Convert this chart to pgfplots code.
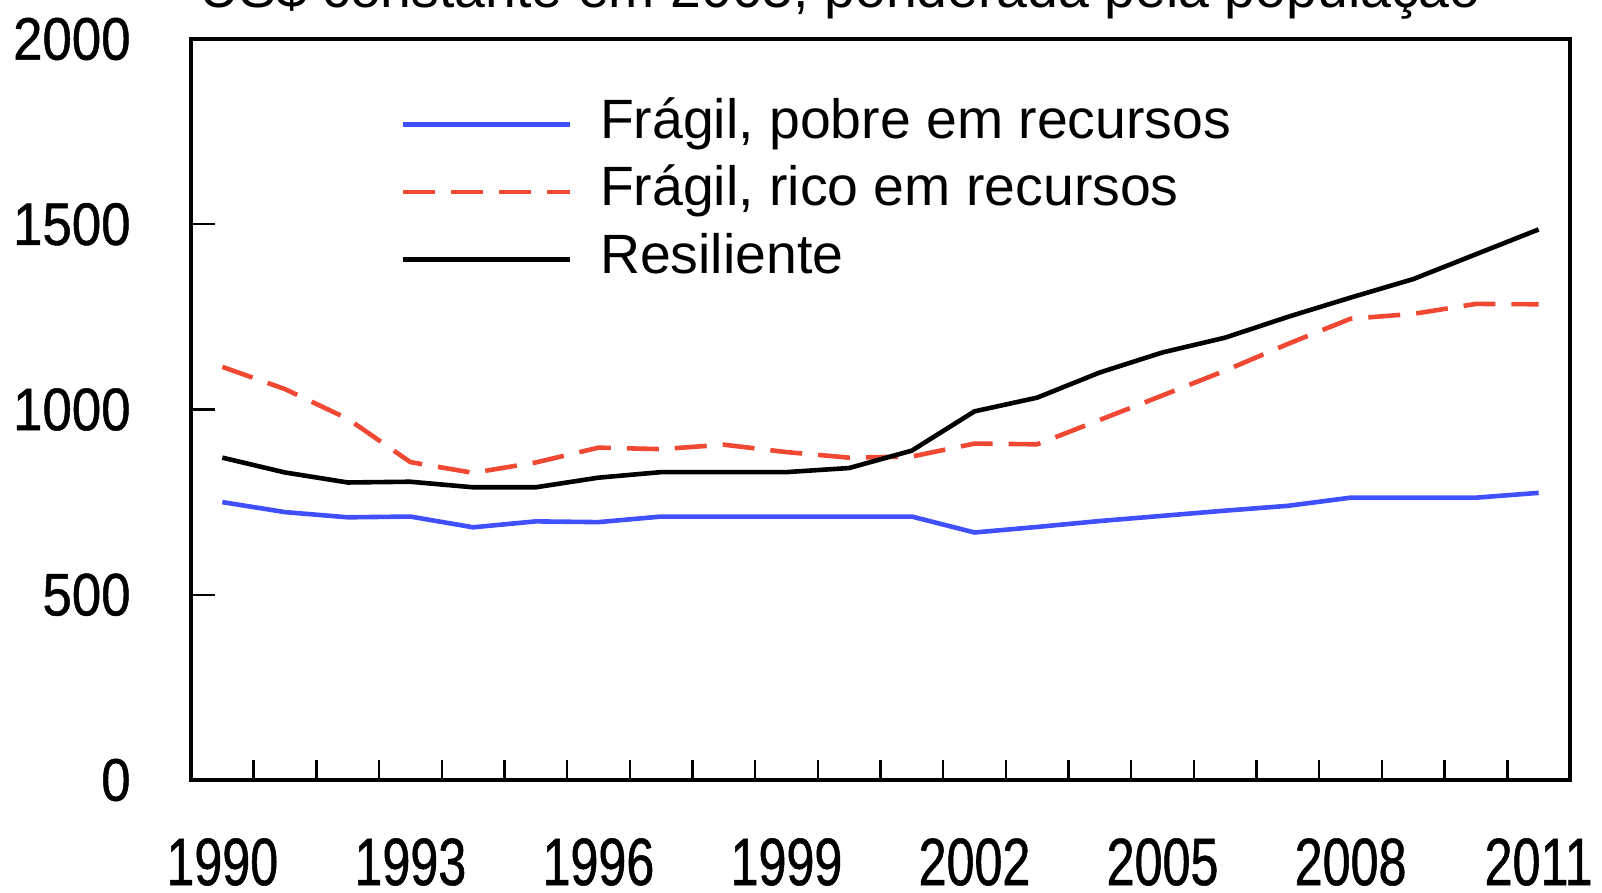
\documentclass[border=0pt]{standalone}
\usepackage{fontspec}
\setmainfont{Liberation Sans}
\newfontfamily\xnarrow[FakeStretch=0.75,FakeBold=0.8]{Liberation Sans}
\newfontfamily\ynarrow[FakeStretch=0.88,FakeBold=0.8]{Liberation Sans}
\usepackage{pgfplots}
\pgfplotsset{compat=1.18}
\definecolor{cblue}{RGB}{64,80,255}
\definecolor{cred}{RGB}{240,72,50}
\begin{document}
\begin{tikzpicture}
\begin{axis}[
 scale only axis, width=689.5pt, height=370.5pt,
 xmin=1989.5, xmax=2011.5, ymin=0, ymax=2000,
 axis line style={line width=1.8pt},
 xtick={1990,1993,1996,1999,2002,2005,2008,2011},
 xticklabels={1990,1993,1996,1999,2002,2005,2008,2011},
 minor xtick={1990.5,1991.5,1992.5,1993.5,1994.5,1995.5,1996.5,1997.5,1998.5,1999.5,2000.5,2001.5,2002.5,2003.5,2004.5,2005.5,2006.5,2007.5,2008.5,2009.5,2010.5},
 minor tick length=10pt,
 major tick length=12pt,
 ytick={0,500,1000,1500,2000}, yticklabels={0,500,1000,1500,2000},
 tick align=inside, xtick pos=bottom, ytick pos=left,
 tick style={line width=1.2pt, black},
 major x tick style={draw=none},
 xticklabel style={font=\xnarrow\fontsize{33.5}{36}\selectfont, anchor=center, inner sep=0pt, yshift=-41pt},
 yticklabel style={font=\ynarrow\fontsize{30}{34}\selectfont, anchor=east, inner sep=0pt, xshift=-30pt},
 legend style={at={(axis description cs:0.1516,0.9204)}, anchor=north west, draw=none, fill=none,
   inner sep=0pt, row sep=7.75pt, column sep=14pt,
   font=\fontsize{27.7}{33}\selectfont,
   nodes={inner sep=0pt, text height=20pt, text depth=6pt}},
 legend cell align=left,
 legend image code/.code={\draw[#1] (0pt,0pt) -- (83.5pt,0pt);},
 every axis plot/.append style={line width=2.3pt, line join=round},
]
\addplot[cblue] coordinates {(1990,750)(1991,723)(1992,709)(1993,711)(1994,682)(1995,698)(1996,696)(1997,711)(1998,711)(1999,711)(2000,711)(2001,711)(2002,668)(2003,683)(2004,699)(2005,713)(2006,727)(2007,740)(2008,762)(2009,762)(2010,762)(2011,775)};
\addlegendentry{Frágil, pobre em recursos}
\addplot[cred, dash pattern=on 16pt off 8pt] coordinates {(1990,1115)(1991,1055)(1992,975)(1993,858)(1994,829)(1995,857)(1996,897)(1997,893)(1998,905)(1999,885)(2000,870)(2001,873)(2002,908)(2003,906)(2004,972)(2005,1038)(2006,1105)(2007,1177)(2008,1245)(2009,1258)(2010,1285)(2011,1284)};
\addlegendentry{Frágil, rico em recursos}
\addplot[black] coordinates {(1990,870)(1991,830)(1992,803)(1993,805)(1994,790)(1995,790)(1996,816)(1997,831)(1998,831)(1999,831)(2000,842)(2001,889)(2002,995)(2003,1032)(2004,1100)(2005,1154)(2006,1194)(2007,1250)(2008,1302)(2009,1352)(2010,1419)(2011,1486)};
\addlegendentry{Resiliente}
\end{axis}
\node[anchor=base, font=\fontsize{27.7}{33}\selectfont] at (324.5pt,386pt) {US\$ constante em 2005, ponderada pela população};
\pgfresetboundingbox
\useasboundingbox (-95.5pt,-56.5pt) rectangle (705.5pt,390pt);
\end{tikzpicture}
\end{document}
